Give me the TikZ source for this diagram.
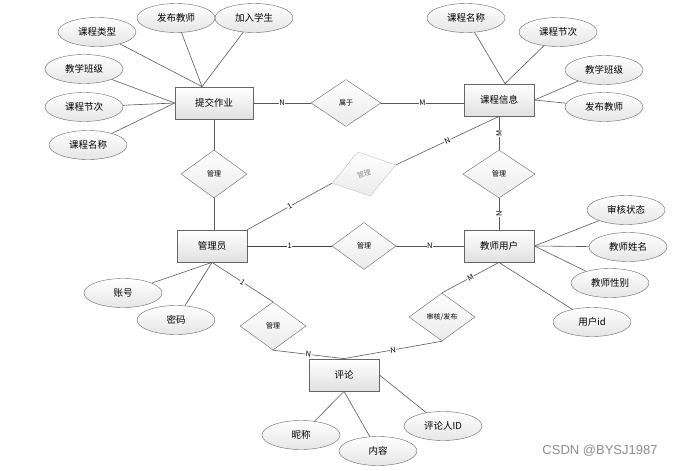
\documentclass[tikz,border=0pt]{standalone}
\usepackage{fontspec}
\setmainfont{Noto Sans CJK SC}
\newfontfamily\wmfont{Liberation Sans}
\usetikzlibrary{shapes.geometric, calc}

\begin{document}
\begin{tikzpicture}[x=1pt, y=-1pt,
  ent/.style={draw=black!60, line width=.8pt, top color=white, bottom color=black!12, minimum width=70pt, minimum height=32pt, inner sep=0pt, font=\fontsize{9.5}{11}\selectfont},
  attr/.style={ellipse, draw=black!60, top color=white, bottom color=black!10, minimum width=78pt, minimum height=29pt, inner sep=0pt, font=\fontsize{9.5}{11}\selectfont},
  rel/.style={diamond, draw=black!60, top color=white, bottom color=black!8, minimum width=66pt, minimum height=48pt, inner sep=0pt, font=\fontsize{7}{8}\selectfont},
  lk/.style={draw=black!65, line width=.6pt},
  lab/.style={fill=white, inner sep=.5pt, font=\fontsize{7.5}{8}\selectfont}]
\useasboundingbox (0,0) rectangle (675,471);
% entities
\node[ent, minimum width=78pt] (zy) at (214,103) {提交作业};
\node[ent] (kc) at (499,100) {课程信息};
\node[ent] (gly) at (212,246) {管理员};
\node[ent] (js) at (499,246) {教师用户};
\node[ent] (pl) at (344,375) {评论};
% relations
\node[rel, minimum width=70pt, minimum height=47pt] (sy) at (346,103) {属于};
\node[rel] (gl1) at (214,174) {管理};
\node[rel, minimum width=72pt] (gl2) at (499,174) {管理};
\node[rel, minimum width=64pt, minimum height=47pt] (gl3) at (364,246) {管理};
\node[rel, draw=black!25, text=black!45, rotate=16, minimum height=46pt] (gl4) at (364,174) {管理};
\node[rel] (gl5) at (273,326) {管理};
\node[rel] (shfb) at (442,317) {审核/发布};
% attributes
\node[attr] (a1) at (97,32) {课程类型};
\node[attr] (a2) at (176,18) {发布教师};
\node[attr] (a3) at (254,18) {加入学生};
\node[attr] (a4) at (84,69) {教学班级};
\node[attr] (a5) at (84,107) {课程节次};
\node[attr] (a6) at (88,145) {课程名称};
\node[attr] (b1) at (466,18) {课程名称};
\node[attr] (b2) at (558,32) {课程节次};
\node[attr] (b3) at (604,70) {教学班级};
\node[attr] (b4) at (604,107) {发布教师};
\node[attr] (c1) at (123,293) {账号};
\node[attr] (c2) at (176,320) {密码};
\node[attr] (d1) at (626,210) {审核状态};
\node[attr] (d2) at (628,247) {教师姓名};
\node[attr] (d3) at (610,283) {教师性别};
\node[attr] (d4) at (592,322) {用户id};
\node[attr] (e1) at (301,435) {昵称};
\node[attr] (e2) at (378,451) {内容};
\node[attr] (e3) at (443,426) {评论人ID};
\coordinate (zyt) at ($(zy.north)+(-12,0)$);
\coordinate (kct) at ($(kc.north)+(6,0)$);
% attribute links
\draw[lk] (a1) -- (zyt);
\draw[lk] (a2) -- (zyt);
\draw[lk] (a3) -- (zyt);
\draw[lk] (a4) -- (zy.west);
\draw[lk] (a5) -- (zy.west);
\draw[lk] (a6) -- (zy.west);
\draw[lk] (b1) -- (kct);
\draw[lk] (b2) -- (kct);
\draw[lk] (b3) -- (kc.east);
\draw[lk] (b4) -- (kc.east);
\draw[lk] (c1) -- (gly.south);
\draw[lk] (c2) -- (gly.south);
\draw[lk] (d1) -- (js.east);
\draw[lk] (d2) -- (js.east);
\draw[lk] (d3) -- (js.east);
\draw[lk] (d4) -- (js.south);
\draw[lk] (e1) -- (pl.south);
\draw[lk] (e2) -- (pl.south);
\draw[lk] (e3) -- (pl.east);
% relation links
\draw[lk] (zy.east) -- (sy.west) node[lab, pos=.5]{N};
\draw[lk] (sy.east) -- (sy.east -| kc.west) node[lab, pos=.5]{M};
\draw[lk] (zy.south) -- (gl1.north);
\draw[lk] (gl1.south) -- (gl1.south |- gly.north);
\draw[lk] (kc.south) -- (gl2.north) node[lab, pos=.5, rotate=90]{M};
\draw[lk] (gl2.south) -- (js.north) node[lab, pos=.5, rotate=90]{N};
\draw[lk, draw=black!75] (gly.east) -- (gl3.west) node[lab, pos=.5]{1};
\draw[lk] (gl3.east) -- (js.west) node[lab, pos=.5]{N};
\draw[lk] (gly.north east) -- (gl4.west) node[lab, pos=.5, sloped]{1};
\draw[lk] (gl4.east) -- (kc.south) node[lab, pos=.5, sloped]{N};
\draw[lk] (gly.south) -- (gl5.north) node[lab, pos=.5, sloped]{1};
\draw[lk] (js.south) -- (shfb.north) node[lab, pos=.5, sloped]{M};
\draw[lk] (gl5.south) -- (pl.north) node[lab, pos=.5, sloped]{N};
\draw[lk] (shfb.south) -- (pl.north) node[lab, pos=.5, sloped]{N};
\node[text=black!45, font=\wmfont\fontsize{13}{14}\selectfont] (wm) at (600,451) {CSDN @BYSJ1987};
\end{tikzpicture}
\end{document}
